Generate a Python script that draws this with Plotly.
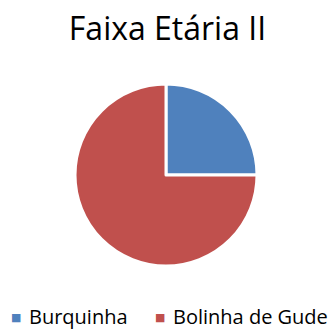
import plotly.graph_objects as go

labels = ["Burquinha", "Bolinha de Gude"]
values = [25, 75]
colors = ["#4F81BD", "#C0504D"]

W, H = 335, 329
cx, cy, r = 166, 175, 91

fig = go.Figure(go.Pie(
    labels=labels,
    values=values,
    sort=False,
    direction="clockwise",
    rotation=0,
    marker=dict(colors=colors, line=dict(color="white", width=3)),
    textinfo="none",
    hoverinfo="label+percent",
    showlegend=False,
    domain=dict(x=[(cx - r) / W, (cx + r) / W], y=[(H - cy - r) / H, (H - cy + r) / H]),
))

# Legend row: a coloured square glyph, then the label text
swatch_x = [16, 160]
label_x = [27, 171]
for lab, col, sx, lx in zip(labels, colors, swatch_x, label_x):
    fig.add_annotation(
        text="■", xref="paper", yref="paper",
        x=sx / W, xanchor="center", y=(H - 317) / H, yanchor="middle",
        showarrow=False, font=dict(family="DejaVu Sans", size=11, color=col),
    )
    fig.add_annotation(
        text=lab, xref="paper", yref="paper",
        x=lx / W, xanchor="left", y=(H - 316) / H, yanchor="middle",
        showarrow=False, font=dict(size=20, color="#000000"),
    )

fig.update_layout(
    width=W, height=H,
    margin=dict(l=0, r=0, t=0, b=0),
    paper_bgcolor="white",
    font=dict(family="Open Sans, sans-serif", color="#000000"),
    title=dict(text="Faixa Etária II", x=0.5, xanchor="center", y=1 - 29 / H, yanchor="middle",
               font=dict(size=32, color="#000000")),
)

fig.write_html("out.html")
